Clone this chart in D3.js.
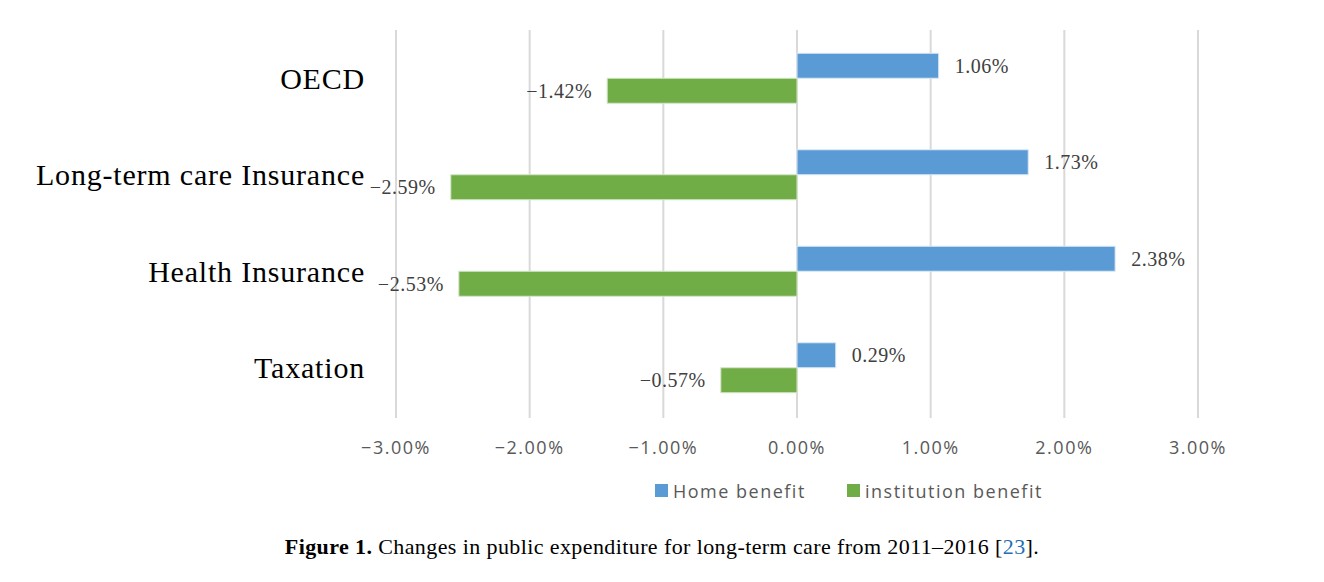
<!DOCTYPE html>
<html>
<head>
<meta charset="utf-8">
<script src="https://cdn.jsdelivr.net/npm/d3@7"></script>
<style>
  body { margin: 0; background: #fff; }
</style>
</head>
<body>
<div id="chart"></div>
<script>
// Data
var categories = ["OECD", "Long-term care Insurance", "Health Insurance", "Taxation"];
var homeBenefit = [1.06, 1.73, 2.38, 0.29];
var institutionBenefit = [-1.42, -2.59, -2.53, -0.57];
var xTicks = [-3, -2, -1, 0, 1, 2, 3];
var seriesNames = ["Home benefit", "institution benefit"];
var seriesColors = ["#5B9BD5", "#70AD47"];

var width = 1324,
  height = 582;

var svg = d3
  .select("#chart")
  .append("svg")
  .attr("width", width)
  .attr("height", height);

var x = d3.scaleLinear().domain([-3, 3]).range([396, 1198]);
var y = d3.scaleBand().domain(categories).range([30, 416]);

var fmt = function (v) {
  return (v < 0 ? "\u2212" : "") + Math.abs(v).toFixed(2) + "%";
};

//sans text used for the axis and legend
var sansStyle = function (sel) {
  sel
    .style("font-family", "'Open Sans', sans-serif")
    .style("font-size", "18px")
    .style("letter-spacing", "1.5px")
    .attr("fill", "#595959");
};

// gridlines
svg
  .append("g")
  .selectAll("line")
  .data(xTicks)
  .enter()
  .append("line")
  .attr("x1", function (d) { return x(d); })
  .attr("x2", function (d) { return x(d); })
  .attr("y1", 30)
  .attr("y2", 418)
  .attr("stroke", "#d9d9d9")
  .attr("stroke-width", 2);

// tick labels
svg
  .append("g")
  .selectAll("text")
  .data(xTicks)
  .enter()
  .append("text")
  .attr("x", function (d) { return x(d); })
  .attr("y", 454)
  .attr("text-anchor", "middle")
  .call(sansStyle)
  .text(function (d) { return fmt(d); });

var barH = 25;

// bars
var rows = categories.map(function (c, i) {
  return { cat: c, home: homeBenefit[i], inst: institutionBenefit[i] };
});

var g = svg.append("g");

g.selectAll("rect.home")
  .data(rows)
  .enter()
  .append("rect")
  .attr("class", "home")
  .attr("x", function (d) { return x(Math.min(0, d.home)); })
  .attr("y", function (d) { return y(d.cat) + y.bandwidth() / 2 - barH; })
  .attr("width", function (d) { return Math.abs(x(d.home) - x(0)); })
  .attr("height", barH)
  .attr("fill", seriesColors[0])
  .attr("stroke", "#dbe8f5")
  .attr("stroke-width", 1);

g.selectAll("rect.inst")
  .data(rows)
  .enter()
  .append("rect")
  .attr("class", "inst")
  .attr("x", function (d) { return x(Math.min(0, d.inst)); })
  .attr("y", function (d) { return y(d.cat) + y.bandwidth() / 2; })
  .attr("width", function (d) { return Math.abs(x(d.inst) - x(0)); })
  .attr("height", barH)
  .attr("fill", seriesColors[1])
  .attr("stroke", "#d4e6c8")
  .attr("stroke-width", 1);

// value labels
var labelStyle = function (sel) {
  sel
    .style("font-family", "'Liberation Serif', 'Times New Roman', serif")
    .style("font-size", "20px")
    .style("letter-spacing", "0.5px")
    .attr("fill", "#404040")
    .attr("dominant-baseline", "central");
};

g.selectAll("text.home")
  .data(rows)
  .enter()
  .append("text")
  .attr("class", "home")
  .attr("x", function (d) { return x(d.home) + 16; })
  .attr("y", function (d) { return y(d.cat) + y.bandwidth() / 2 - barH / 2; })
  .call(labelStyle)
  .text(function (d) { return fmt(d.home); });

g.selectAll("text.inst")
  .data(rows)
  .enter()
  .append("text")
  .attr("class", "inst")
  .attr("x", function (d) { return x(d.inst) - 15; })
  .attr("y", function (d) { return y(d.cat) + y.bandwidth() / 2 + barH / 2; })
  .attr("text-anchor", "end")
  .call(labelStyle)
  .text(function (d) { return fmt(d.inst); });

// category labels
svg
  .append("g")
  .selectAll("text")
  .data(categories)
  .enter()
  .append("text")
  .attr("x", 365)
  .attr("y", function (d) { return y(d) + y.bandwidth() / 2; })
  .attr("text-anchor", "end")
  .attr("dominant-baseline", "central")
  .style("font-family", "'Liberation Serif', 'Times New Roman', serif")
  .style("font-size", "30px")
  .style("letter-spacing", "0.8px")
  .attr("fill", "#000")
  .text(function (d) { return d; });

// legend
var legendX = [655, 847];
var legend = svg
  .append("g")
  .selectAll("g")
  .data(seriesNames)
  .enter()
  .append("g")
  .attr("transform", function (d, i) { return "translate(" + legendX[i] + ",484)"; });

legend
  .append("rect")
  .attr("width", 13)
  .attr("height", 13)
  .attr("fill", function (d, i) { return seriesColors[i]; });

legend
  .append("text")
  .attr("x", 18)
  .attr("y", 7)
  .attr("dominant-baseline", "central")
  .call(sansStyle)
  .text(function (d) { return d; });

// caption
var caption = svg
  .append("text")
  .attr("x", 662)
  .attr("y", 554)
  .attr("text-anchor", "middle")
  .style("font-family", "'Liberation Serif', 'Times New Roman', serif")
  .style("font-size", "22px")
  .style("letter-spacing", "0.4px")
  .attr("fill", "#000");

caption.append("tspan").style("font-weight", "bold").text("Figure 1.");
caption.append("tspan").text(" Changes in public expenditure for long-term care from 2011\u20132016 [");
caption.append("tspan").attr("fill", "#1f6fb5").text("23");
caption.append("tspan").text("].");
</script>
</body>
</html>
